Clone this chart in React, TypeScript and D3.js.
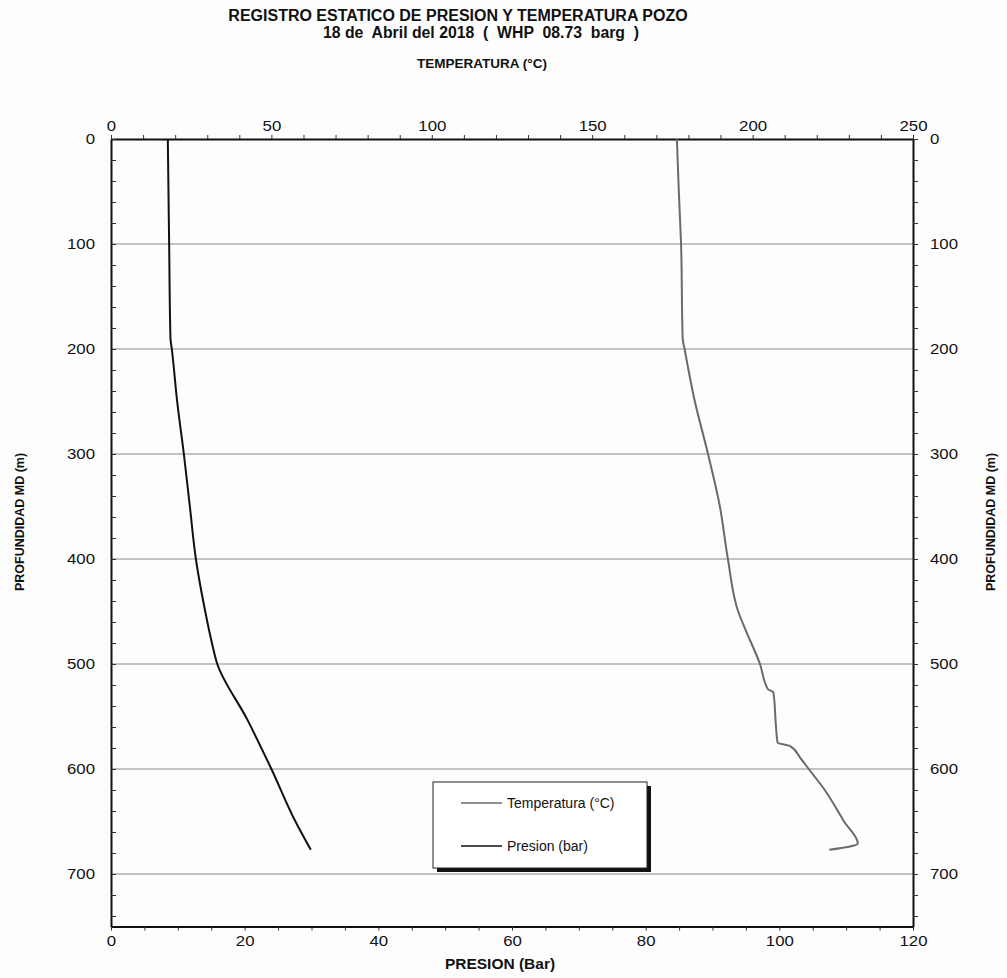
import React, { useEffect, useRef } from "react";
import * as d3 from "d3";

// Temperature profile (depth m, °C)
const tempDepth = [0, 50, 100, 190, 200, 250, 300, 350, 400, 450, 466, 500, 524, 527, 560, 575, 578, 590, 600, 620, 650, 671, 677];
const tempValue = [176.4, 177.0, 177.7, 178.2, 178.8, 182.0, 186.1, 189.8, 192.3, 195.5, 197.6, 202.3, 204.8, 206.5, 207.3, 207.8, 211.6, 215.0, 217.5, 222.5, 228.5, 232.8, 223.9];

// Pressure profile (depth m, bar)
const presDepth = [0, 100, 190, 200, 250, 300, 350, 400, 450, 480, 500, 553, 600, 650, 677];
const presValue = [8.5, 8.7, 8.9, 9.1, 9.9, 10.9, 11.8, 12.7, 14.1, 15.1, 15.9, 20.4, 24.0, 27.6, 29.9];

const tempTicks = d3.range(0, 251, 10);
const presTicks = d3.range(0, 121, 5);
const depthTicks = d3.range(0, 741, 20);
const gridDepths = [100, 200, 300, 400, 500, 600, 700];

const W = 1007;
const H = 978;
const L = 111, R = 913, T = 139, B = 926.5;
const SX = 1.2;

export default function App() {
  const ref = useRef<SVGSVGElement>(null);

  const xT = d3.scaleLinear().domain([0, 250]).range([L, R]);
  const xP = d3.scaleLinear().domain([0, 120]).range([L, R]);
  const y = d3.scaleLinear().domain([0, 750]).range([T, B]);

  const curve = d3.curveMonotoneY;
  const tempLine = d3.line<number>().curve(curve).x((_, i) => xT(tempValue[i])).y((d) => y(d))(tempDepth) || "";
  const presLine = d3.line<number>().curve(curve).x((_, i) => xP(presValue[i])).y((d) => y(d))(presDepth) || "";

  useEffect(() => {
    const svg = d3.select(ref.current);
    const font = "Liberation Sans, Arial, sans-serif";
    const style = (g: any) => {
      g.attr("font-size", 14).attr("font-family", font);
      g.selectAll("path.domain").attr("stroke", "#111").attr("stroke-width", 2);
      g.selectAll(".tick line").attr("stroke", "#333").attr("stroke-width", 1);
      g.selectAll(".tick text").attr("fill", "#111").each(function (this: any) {
        const t = d3.select(this);
        const x = +t.attr("x") || 0;
        t.attr("x", x / SX).attr("transform", `scale(${SX},1)`);
      });
    };
    svg.select<SVGGElement>(".axTop")
      .call(d3.axisTop(xT).tickValues(tempTicks).tickSize(4).tickPadding(4).tickSizeOuter(0)
        .tickFormat((d: any) => (d % 50 === 0 ? String(d) : "")))
      .call(style);
    svg.select<SVGGElement>(".axBottom")
      .call(d3.axisBottom(xP).tickValues(presTicks).tickSize(4).tickPadding(6).tickSizeOuter(0)
        .tickFormat((d: any) => (d % 20 === 0 ? String(d) : "")))
      .call(style);
    svg.select<SVGGElement>(".axLeft")
      .call(d3.axisLeft(y).tickValues(depthTicks).tickSize(-5).tickPadding(16).tickSizeOuter(0)
        .tickFormat((d: any) => (d % 100 === 0 ? String(d) : "")))
      .call(style);
    svg.select<SVGGElement>(".axRight")
      .call(d3.axisRight(y).tickValues(depthTicks).tickSize(5).tickPadding(12).tickSizeOuter(0)
        .tickFormat((d: any) => (d % 100 === 0 ? String(d) : "")))
      .call(style);
  }, []);

  const bold = "Liberation Sans, Arial, sans-serif";
  const narrow = "Liberation Sans Narrow, Arial Narrow, Liberation Sans, sans-serif";

  return (
    <svg ref={ref} width={W} height={H} style={{ position: "absolute", left: 0, top: 0, background: "#fff" }}>
      <rect x={0} y={0} width={W} height={H} fill="#fdfdfd" />
      <text x={458} y={21} textAnchor="middle" fontFamily={bold} fontWeight="bold" fontSize={16} fill="#111">
        REGISTRO ESTATICO DE PRESION Y TEMPERATURA POZO
      </text>
      <text x={481} y={38} textAnchor="middle" fontFamily={bold} fontWeight="bold" fontSize={15.8} fill="#111" style={{ whiteSpace: "pre" }}>
        {"18 de  Abril del 2018  (  WHP  08.73  barg  )"}
      </text>
      <text x={482} y={68} textAnchor="middle" fontFamily={bold} fontWeight="bold" fontSize={13.5} fill="#111">
        TEMPERATURA (°C)
      </text>

      {gridDepths.map((d) => (
        <line key={d} x1={L} x2={R} y1={y(d)} y2={y(d)} stroke="#888" strokeWidth={1} />
      ))}

      <g className="axTop" transform={`translate(0,${T})`} />
      <g className="axBottom" transform={`translate(0,${B})`} />
      <g className="axLeft" transform={`translate(${L},0)`} />
      <g className="axRight" transform={`translate(${R},0)`} />

      <path d={tempLine} fill="none" stroke="#6a6a6a" strokeWidth={2} />
      <path d={presLine} fill="none" stroke="#111" strokeWidth={2} />

      {/* legend */}
      <rect x={437} y={786} width={214} height={86} fill="#111" />
      <rect x={433} y={782} width={214} height={86} fill="#fff" stroke="#222" strokeWidth={1} />
      <line x1={461} x2={502} y1={803} y2={803} stroke="#6a6a6a" strokeWidth={1.5} />
      <text x={507} y={808} fontFamily={bold} fontSize={14} fill="#111">Temperatura (°C)</text>
      <line x1={461} x2={502} y1={846} y2={846} stroke="#111" strokeWidth={1.5} />
      <text x={507} y={851} fontFamily={bold} fontSize={14} fill="#111">Presion (bar)</text>

      <text transform="translate(24,522) rotate(-90)" textAnchor="middle" fontFamily={narrow} fontWeight="bold" fontSize={12.5} fill="#111">
        PROFUNDIDAD MD (m)
      </text>
      <text transform="translate(995,522) rotate(-90)" textAnchor="middle" fontFamily={narrow} fontWeight="bold" fontSize={12.5} fill="#111">
        PROFUNDIDAD MD (m)
      </text>
      <text x={500} y={969} textAnchor="middle" fontFamily={narrow} fontWeight="bold" fontSize={15.5} fill="#111">
        PRESION (Bar)
      </text>
    </svg>
  );
}
